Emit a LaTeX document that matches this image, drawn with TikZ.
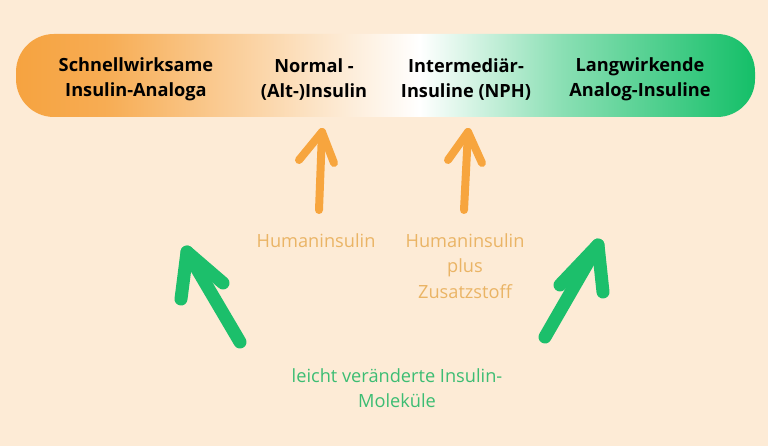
\documentclass[tikz,border=0pt]{standalone}
\usepackage{fontspec}
\setmainfont{Open Sans}
\definecolor{bg}{HTML}{FDEBD6}
\definecolor{barorange}{HTML}{F6A340}
\definecolor{bargreen}{HTML}{14BF68}
\definecolor{arrorange}{HTML}{F7A53E}
\definecolor{txtorange}{HTML}{EAB465}
\definecolor{arrgreen}{HTML}{1CBF6B}
\definecolor{txtgreen}{HTML}{3CBD73}
\pgfdeclarehorizontalshading{insbar}{100bp}{color(0bp)=(barorange); color(25bp)=(barorange); color(31bp)=(barorange!90!white); color(52.3bp)=(white); color(62bp)=(bargreen!50!white); color(75bp)=(bargreen); color(100bp)=(bargreen)}
\tikzset{
  bartext/.style={align=center, font=\bfseries\fontsize{18.2}{25}\selectfont, text=black, inner sep=0pt},
  orangetext/.style={align=center, font=\fontsize{18.2}{25.5}\selectfont, text=txtorange, inner sep=0pt},
  greentext/.style={align=center, font=\fontsize{18.2}{25.5}\selectfont, text=txtgreen, inner sep=0pt},
  orarrow/.style={draw=arrorange, line width=8pt, line cap=round, line join=round},
  grarrow/.style={draw=arrgreen, line width=13pt, line cap=round, line join=round}
}
\begin{document}
\begin{tikzpicture}[x=1pt,y=-1pt]
\fill[bg] (0,0) rectangle (768,446);
\useasboundingbox (0,0) rectangle (768,446);
\node[shading=insbar, rounded corners=38pt, minimum width=739pt, minimum height=83pt, inner sep=0pt] (bar) at (385.5,75.5) {};
\node[bartext] (schnell) at (136,79.5) {Schnellwirksame\\Insulin-Analoga};
\node[bartext] (normal) at (314,79.5) {Normal -\\(Alt-)Insulin};
\node[bartext] (inter) at (466,79.5) {Intermediär-\\Insuline (NPH)};
\node[bartext] (lang) at (640,79.5) {Langwirkende\\Analog-Insuline};
\node[orangetext, anchor=north] (human) at (316,233) {Humaninsulin};
\node[orangetext, anchor=north] (humanplus) at (465,233) {Humaninsulin\\plus\\Zusatzstoff};
\node[greentext, anchor=north] (leicht) at (397,368) {leicht veränderte Insulin-\\Moleküle};
% orange arrows
\coordinate (o1tail) at (319,210);
\coordinate (o1tip) at (322,132);
\coordinate (o1l) at (299,160);
\coordinate (o1r) at (334,163);
\draw[orarrow] (o1tail) -- (o1tip);
\draw[orarrow] (o1l) -- (o1tip) -- (o1r);
\coordinate (o2tail) at (464,210);
\coordinate (o2tip) at (468,132);
\coordinate (o2l) at (448,160);
\coordinate (o2r) at (482,163);
\draw[orarrow] (o2tail) -- (o2tip);
\draw[orarrow] (o2l) -- (o2tip) -- (o2r);
% green arrows
\coordinate (g1tail) at (240,342);
\coordinate (g1tip) at (187,252);
\coordinate (g1l) at (181,299);
\coordinate (g1r) at (223,283);
\draw[grarrow] (g1tail) -- (g1tip);
\draw[grarrow] (g1l) -- (g1tip) -- (g1r);
\coordinate (g2tail) at (545,337);
\coordinate (g2tip) at (598,245);
\coordinate (g2l) at (560,285);
\coordinate (g2r) at (603,292);
\draw[grarrow] (g2tail) -- (g2tip);
\draw[grarrow] (g2l) -- (g2tip) -- (g2r);
\end{tikzpicture}
\end{document}
